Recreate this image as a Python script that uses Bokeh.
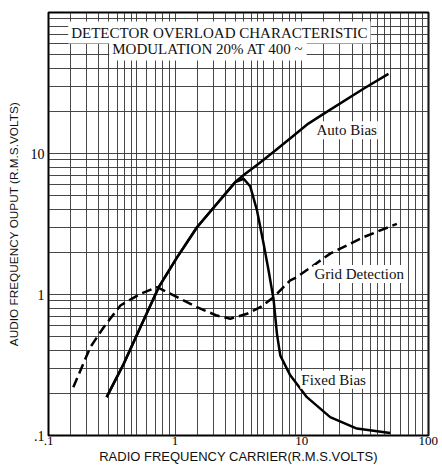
from bokeh.plotting import figure
from bokeh.models import FixedTicker, CustomJSTickFormatter, Label
from bokeh.embed import file_html
from bokeh.resources import INLINE

# ---- data ----
auto_x = [0.288, 0.393, 0.532, 0.743, 1.04, 1.49, 2.14, 2.99, 3.59, 4.57, 6.19, 8.38,
          11.3, 14.9, 30.8, 48.5]
auto_y = [0.187, 0.323, 0.586, 1.127, 1.84, 3.0, 4.40, 6.27, 7.18, 8.45, 10.5, 13.1,
          16.3, 19.1, 28.8, 36.7]

fixed_x = [0.288, 0.393, 0.532, 0.743, 1.04, 1.49, 2.14, 2.99, 3.48, 3.93, 4.44, 5.0,
           5.48, 6.0, 6.38, 6.78, 8.13, 11.0, 16.8, 27.3, 50.0]
fixed_y = [0.187, 0.323, 0.586, 1.127, 1.84, 3.0, 4.40, 6.27, 6.62, 5.83, 3.94, 2.30,
           1.48, 0.923, 0.526, 0.369, 0.267, 0.187, 0.135, 0.112, 0.104]

grid_x = [0.157, 0.214, 0.273, 0.370, 0.532, 0.721, 1.04, 1.49, 2.14, 2.73, 3.70, 4.71,
          6.0, 8.13, 9.18, 16.8, 30.8, 56.5]
grid_y = [0.220, 0.423, 0.586, 0.836, 1.01, 1.127, 0.957, 0.813, 0.709, 0.673, 0.730, 0.813,
          0.957, 1.26, 1.33, 1.95, 2.55, 3.17]

x_ticks = [0.1, 1, 10, 100]
y_ticks = [0.1, 1, 10]
decades = [0.1, 1, 10]
x_steps = [1, 1.5, 2, 2.5, 3, 3.5, 4, 4.5, 5, 6, 7, 8, 9]
y_steps = [1, 2, 3, 4, 5, 6, 7, 8, 9]

title_1 = "DETECTOR OVERLOAD CHARACTERISTIC"
title_2 = "MODULATION 20% AT 400 ~"
x_title = "RADIO FREQUENCY CARRIER(R.M.S.VOLTS)"
y_title = "AUDIO FREQUENCY OUPUT (R.M.S.VOLTS)"

x_grid_vals = [d * s for d in decades for s in x_steps] + [100]
y_grid_vals = [d * s for d in decades for s in y_steps] + [100]

p = figure(frame_width=380, frame_height=423, x_axis_type="log", y_axis_type="log",
           x_range=(0.1, 100.5), y_range=(0.1, 100),
           output_backend="svg", toolbar_location=None,
           min_border_left=48, min_border_right=12, min_border_top=12, min_border_bottom=32)

p.background_fill_color = "white"
p.border_fill_color = "white"
p.outline_line_color = "black"
p.outline_line_width = 2
p.outline_line_alpha = 1.0

fmt = CustomJSTickFormatter(code="return tick < 0.5 ? '.1' : tick.toFixed(0);")
for ax, ticks in ((p.xaxis[0], x_ticks), (p.yaxis[0], y_ticks)):
    ax.ticker = FixedTicker(ticks=ticks)
    ax.formatter = fmt
    ax.axis_line_color = None
    ax.major_tick_line_color = None
    ax.minor_tick_line_color = None
    ax.major_tick_out = 0
    ax.major_tick_in = 0
    ax.minor_tick_out = 0
    ax.minor_tick_in = 0
    ax.major_label_text_font = "Liberation Serif"
    ax.major_label_text_color = "black"
    ax.axis_label_text_font = "Liberation Sans"
    ax.axis_label_text_font_style = "normal"
    ax.axis_label_text_color = "#111111"

p.xaxis[0].axis_label = x_title
p.yaxis[0].axis_label = y_title
p.xaxis[0].major_label_text_font_size = "13px"
p.yaxis[0].major_label_text_font_size = "14px"
p.xaxis[0].axis_label_text_font_size = "13px"
p.yaxis[0].axis_label_text_font_size = "11.8px"
p.xaxis[0].major_label_standoff = 1
p.xaxis[0].axis_label_standoff = 1
p.yaxis[0].major_label_standoff = 4
p.yaxis[0].axis_label_standoff = 7

p.xgrid[0].ticker = FixedTicker(ticks=x_grid_vals)
p.ygrid[0].ticker = FixedTicker(ticks=y_grid_vals)
for g in (p.xgrid[0], p.ygrid[0]):
    g.grid_line_color = "#333333"
    g.grid_line_width = 1
    g.grid_line_alpha = 0.9

p.line(auto_x, auto_y, line_color="black", line_width=2.5)
p.line(fixed_x, fixed_y, line_color="black", line_width=2.5)
p.line(grid_x, grid_y, line_color="black", line_width=2.5, line_dash="10 5")

def lab(x, y, text, size="15px", pad=1):
    p.add_layout(Label(x=x, y=y, text=text, text_font="Liberation Serif",
                       text_font_size=size, text_color="#111111",
                       text_align="center", text_baseline="middle",
                       background_fill_color="white", padding=pad))

lab(2.24, 72.1, title_1, "15px", 3)
lab(1.82, 54.7, title_2, "15px", 3)
lab(22.7, 14.6, "Auto Bias")
lab(28.5, 1.40, "Grid Detection")
lab(17.9, 0.249, "Fixed Bias")

open("out.html", "w").write(file_html(p, INLINE))
